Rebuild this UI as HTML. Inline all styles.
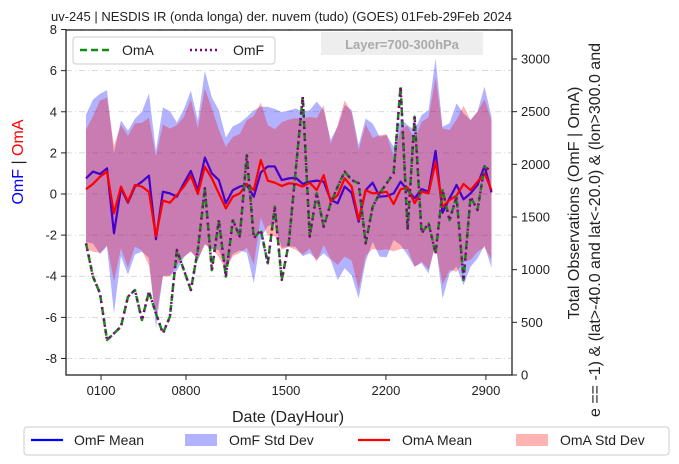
<!DOCTYPE html>
<html><head><meta charset="utf-8"><style>
body{margin:0;background:#fff;}
svg{display:block;font-family:"Liberation Sans","DejaVu Sans",sans-serif;}
</style></head><body>
<svg id="chart" width="679" height="464" viewBox="0 0 679 464" xmlns="http://www.w3.org/2000/svg"></svg>
<script>
const omfMean=[0.76,1.09,0.97,1.25,-1.91,0.28,-0.42,0.36,0.6,0.89,-2.2,0.11,0.03,-0.13,0.52,1.12,0.19,1.77,1.0,0.68,-0.45,0.19,0.36,0.44,-0.13,1.05,1.34,1.34,0.68,0.76,
0.79,0.49,0.60,0.65,0.60,-0.29,-0.45,0.36,0.06,-1.35,0.19,0.55,-0.13,-0.10,0.03,0.60,0.19,-0.21,0.24,0.11,2.1,-0.91,-0.21,0.44,-0.26,0.03,0.44,1.36,0.08];
const omaMean=[0.23,0.49,0.84,1.09,-0.94,0.36,-0.37,0.44,0.36,0.11,-2.07,-0.32,-0.42,-0.05,0.36,0.89,0.0,1.33,0.76,0.03,-0.7,-0.13,0.03,0.49,0.19,1.65,0.65,0.55,0.39,0.52,
0.49,0.36,0.55,0.19,0.92,-0.37,-0.05,0.76,0.36,-1.26,0.19,0.03,0.06,0.11,-0.49,0.23,0.32,-0.45,0.11,0.03,1.57,-0.62,-0.29,-0.08,0.49,0.19,0.60,1.01,0.19];
const omfStd=[3.1,3.5,3.9,3.8,3.9,3.3,3.5,3.3,3.4,4.0,4.3,4.1,4.0,3.6,3.6,3.9,3.4,4.2,3.7,3.4,3.2,3.1,3.1,3.3,4.2,3.2,2.9,2.8,3.3,3.3,
3.37,3.52,3.48,3.84,3.48,2.92,3.73,3.97,4.02,3.73,3.48,2.88,2.92,2.97,2.27,3.08,3.16,3.32,3.60,3.97,4.49,4.18,3.65,3.97,4.18,3.57,3.57,3.86,3.68];
const omaStd=[2.9,3.3,3.7,3.6,3.3,3.0,3.2,3.0,3.1,3.6,3.9,3.7,3.6,3.4,3.4,3.7,3.2,3.8,3.4,3.1,3.0,2.9,2.9,3.1,3.6,2.8,2.7,2.6,3.1,3.1,
3.2,3.3,3.2,3.5,3.4,2.8,3.4,3.8,3.6,3.4,3.2,2.7,2.8,2.8,2.3,2.9,3.0,3.1,3.4,3.7,4.1,3.8,3.4,3.7,3.8,3.4,3.4,3.6,3.4];
const omaVals=[-2.4,-4.02,-4.83,-7.1,-6.78,-6.45,-5.0,-4.67,-6.13,-4.75,-5.8,-6.78,-5.97,-2.72,-3.7,-4.67,-2.72,0.28,-3.7,-1.27,-4.02,-1.27,-2.07,1.9,-2.15,-1.75,-3.37,-0.62,-4.18,-2.4,
1.17,4.74,-2.07,0.03,-1.59,-0.45,0.36,1.09,0.68,0.52,-2.4,-0.62,0.03,0.52,1.01,5.22,-1.75,3.76,-1.91,-1.43,-2.89,0.19,-1.27,-0.13,-4.18,-0.13,-0.78,1.33,1.1];
const omfVals=omaVals.map(v=>v);
const xTickLabels=["0100","0800","1500","2200","2900"];
const xTickPos=[2.15,14.3,28.6,42.9,57.2];
const yTicks=[-8,-6,-4,-2,0,2,4,6,8];
const y2Ticks=[0,500,1000,1500,2000,2500,3000];

const svg=document.getElementById('chart');
const NS='http://www.w3.org/2000/svg';
const L=66,R=512,T=30,B=375;
const X=i=>86+i*(491.5-86)/58;
const Y=v=>194-v*20.56;
const Y2=v=>375-v*(316/3000);
function el(tag,attrs,parent){const e=document.createElementNS(NS,tag);for(const k in attrs)e.setAttribute(k,attrs[k]);(parent||svg).appendChild(e);return e;}
function txt(s,attrs){const t=el('text',attrs);t.textContent=s;return t;}

yTicks.forEach(v=>{const g=el('line',{x1:L,x2:R,y1:Y(v),y2:Y(v),stroke:'#ccc','stroke-width':0.8,'stroke-dasharray':'6,3,1,3'});

});

function band(mean,std,color,name){
 let up=mean.map((m,i)=>X(i)+','+Y(m+std[i]));
 let dn=mean.map((m,i)=>X(i)+','+Y(m-std[i])).reverse();
 const p=el('polygon',{points:up.concat(dn).join(' '),fill:color,'fill-opacity':0.3,stroke:'none'});
 
 
}
band(omfMean,omfStd,'#0000ff','omf-std-band');
band(omaMean,omaStd,'#ff0000','oma-std-band');
function line(vals,attrs,name){
 const p=el('polyline',Object.assign({points:vals.map((v,i)=>X(i)+','+Y(v)).join(' '),fill:'none','stroke-linejoin':'round'},attrs));
 
 
}
line(omfMean,{stroke:'#4400cc','stroke-width':2.2},'omf-mean-line');
line(omaMean,{stroke:'#ff0000','stroke-width':2.2},'oma-mean-line');
line(omaVals,{stroke:'#138a13','stroke-width':2.5,'stroke-dasharray':'7,4'},'oma-line');
line(omfVals,{stroke:'#800080','stroke-width':2.5,'stroke-dasharray':'2,4'},'omf-line');

const fr=el('rect',{x:L,y:T,width:R-L,height:B-T,fill:'none',stroke:'#222','stroke-width':1.3});



yTicks.forEach(v=>{el('line',{x1:L-5,x2:L,y1:Y(v),y2:Y(v),stroke:'#222'});
 const t=txt(String(v),{x:L-9,y:Y(v)+4.5,'text-anchor':'end','font-size':13,fill:'#222'});
 
 });
y2Ticks.forEach(v=>{el('line',{x1:R,x2:R+5,y1:Y2(v),y2:Y2(v),stroke:'#222'});
 const t=txt(String(v),{x:R+9,y:Y2(v)+4.5,'font-size':13,fill:'#222'});
 
 });
xTickPos.forEach((p,i)=>{el('line',{x1:X(p),x2:X(p),y1:B,y2:B+5,stroke:'#222'});
 const t=txt(xTickLabels[i],{x:X(p),y:B+20,'text-anchor':'middle','font-size':13,fill:'#222'});
 
 });
</script>
<svg style="position:absolute;left:0;top:0" width="679" height="464" font-family="Liberation Sans, DejaVu Sans, sans-serif">
<text x="51" y="21" font-size="13" fill="#222">uv-245  |  NESDIS IR (onda longa) der. nuvem (tudo) (GOES)</text>
<text x="512" y="21" font-size="13" fill="#222" text-anchor="end">01Feb-29Feb 2024</text>
<rect x="321" y="32" width="162" height="23" fill="#eee"/>
<text x="402" y="49" font-size="13" font-weight="bold" fill="#aaa" text-anchor="middle">Layer=700-300hPa</text>
<g>
<rect x="73" y="37" width="202" height="27" rx="3" fill="#fff" stroke="#ccc"/>
<line x1="80" y1="50" x2="110" y2="50" stroke="#138a13" stroke-width="2.5" stroke-dasharray="7,4"/>
<text x="122" y="55" font-size="14" fill="#222">OmA</text>
<line x1="190" y1="50" x2="220" y2="50" stroke="#800080" stroke-width="2.5" stroke-dasharray="2,3"/>
<text x="233" y="55" font-size="14" fill="#222">OmF</text>
</g>
<text x="288" y="422" font-size="16" fill="#222" text-anchor="middle">Date (DayHour)</text>
<text transform="translate(23,162) rotate(-90)" font-size="16" text-anchor="middle"><tspan fill="#0000ff">OmF</tspan><tspan fill="#222">   |   </tspan><tspan fill="#ff0000">OmA</tspan></text>
<text transform="translate(579,203) rotate(-90)" font-size="16" fill="#222" text-anchor="middle">Total Observations (OmF | OmA)</text>
<text transform="translate(600,230) rotate(-90)" font-size="16" fill="#222" text-anchor="middle">e == -1) &amp; (lat&gt;-40.0 and lat&lt;-20.0) &amp; (lon&gt;300.0 and</text>
<g>
<rect x="24" y="427" width="645" height="28" rx="3" fill="#fff" stroke="#ccc"/>
<line x1="31" y1="440" x2="63" y2="440" stroke="#0000ff" stroke-width="2.2"/>
<text x="74" y="445" font-size="14" fill="#222">OmF Mean</text>
<rect x="185" y="434" width="32" height="12" fill="#0000ff" fill-opacity="0.3"/>
<text x="229" y="445" font-size="14" fill="#222">OmF Std Dev</text>
<line x1="358" y1="440" x2="390" y2="440" stroke="#ff0000" stroke-width="2.2"/>
<text x="402" y="445" font-size="14" fill="#222">OmA Mean</text>
<rect x="516" y="434" width="32" height="12" fill="#ff0000" fill-opacity="0.3"/>
<text x="560" y="445" font-size="14" fill="#222">OmA Std Dev</text>
</g>
</svg>
</body></html>
